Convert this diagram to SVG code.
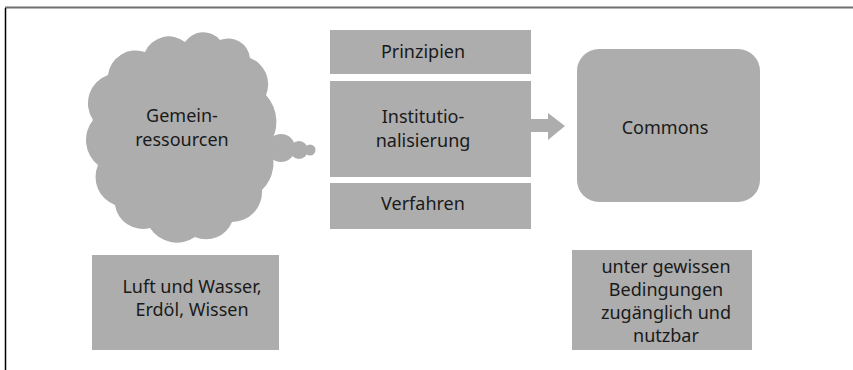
<svg xmlns="http://www.w3.org/2000/svg" width="853" height="370" viewBox="0 0 853 370">
<style>
.shape{fill:#adadad;stroke:none}
.t{font-family:"Noto Sans","Open Sans",sans-serif;font-size:18px;fill:#1a1a1a;text-anchor:middle}
</style>
<rect width="853" height="370" fill="#ffffff"/>
<line x1="5" y1="7.5" x2="853" y2="7.5" stroke="#6e6e6e" stroke-width="2"/>
<line x1="5.5" y1="8" x2="5.5" y2="370" stroke="#000000" stroke-width="1.5"/>
<g id="connectors">
<polygon class="shape" points="531,119 548,119 548,113 565,126 548,140 548,132 531,132"/>
</g>
<g id="cloud">
<path class="shape" d="M108,75 A28,28 0 0 1 145,52 A26,26 0 0 1 185,42 A22,22 0 0 1 220,40 A22,22 0 0 1 250,58 A28,28 0 0 1 266,95 A40,40 0 0 1 269,145 A38,38 0 0 1 262,190 A30,30 0 0 1 232,222 A28,28 0 0 1 195,237 A32,32 0 0 1 150,228 A28,28 0 0 1 115,205 A30,30 0 0 1 98,165 A32,32 0 0 1 93,120 A30,30 0 0 1 108,75 Z"/>
<polygon class="shape" points="108,75 145,52 185,42 220,40 250,58 266,95 269,145 262,190 232,222 195,237 150,228 115,205 98,165 93,120"/>
<circle class="shape" cx="281" cy="148" r="14"/>
<circle class="shape" cx="299" cy="150" r="9"/>
<circle class="shape" cx="310" cy="150" r="5.5"/>
<text class="t" x="182" y="122">Gemein-</text>
<text class="t" x="182" y="146">ressourcen</text>
</g>
<g id="prinzipien">
<rect class="shape" x="330" y="30" width="201" height="44"/>
<text class="t" x="423" y="58">Prinzipien</text>
</g>
<g id="institutionalisierung">
<rect class="shape" x="330" y="81" width="201" height="96"/>
<text class="t" x="423" y="123">Institutio-</text>
<text class="t" x="423" y="147">nalisierung</text>
</g>
<g id="verfahren">
<rect class="shape" x="330" y="183" width="201" height="46"/>
<text class="t" x="423" y="210">Verfahren</text>
</g>
<g id="commons">
<rect class="shape" x="577" y="49" width="183" height="153" rx="22" ry="22"/>
<text class="t" x="665" y="134">Commons</text>
</g>
<g id="beispiele">
<rect class="shape" x="92" y="255" width="187" height="95"/>
<text class="t" x="192" y="293">Luft und Wasser,</text>
<text class="t" x="192" y="316">Erdöl, Wissen</text>
</g>
<g id="bedingungen">
<rect class="shape" x="572" y="250" width="180" height="100"/>
<text class="t" x="666" y="273">unter gewissen</text>
<text class="t" x="666" y="296">Bedingungen</text>
<text class="t" x="666" y="319">zugänglich und</text>
<text class="t" x="666" y="342">nutzbar</text>
</g>
</svg>
